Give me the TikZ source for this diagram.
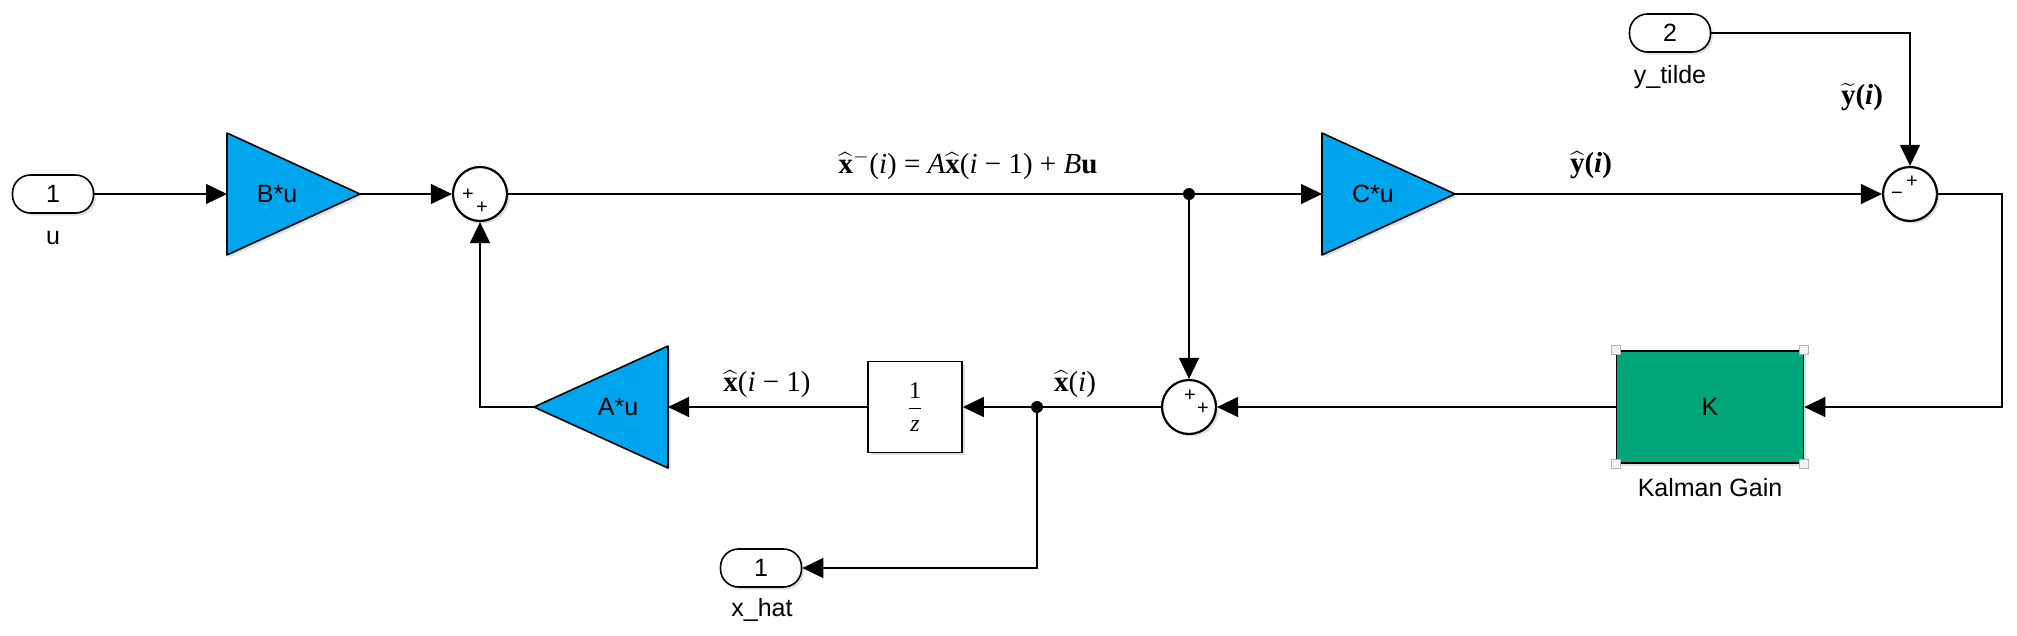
\RequirePackage{fix-cm}
\documentclass[tikz,border=0pt]{standalone}
\usepackage{amsmath}
\usepackage[no-math]{fontspec}
\setmainfont{Liberation Sans}
\newfontfamily\tms{Liberation Serif}
\usetikzlibrary{arrows.meta,shadows,calc}
\definecolor{gainblue}{RGB}{0,166,237}
\definecolor{kgreen}{RGB}{0,166,122}
\newcommand\hatx{\ensuremath{\widehat{\hbox{\tms\bfseries x}}}}
\begin{document}
\begin{tikzpicture}[x=1pt,y=-1pt,
  wire/.style={line width=1.3pt},
  arr/.style={wire,-{Triangle[length=21pt,width=20pt]}},
  shad/.style={drop shadow={shadow xshift=2.5pt,shadow yshift=-2.5pt,opacity=0.25}},
  port/.style={draw,line width=1.6pt,rounded corners=18pt,minimum width=81pt,minimum height=38pt,inner sep=0pt,fill=white,shad,font=\fontsize{25}{30}\selectfont},
  sumnode/.style={draw,circle,line width=2.2pt,minimum size=54pt,inner sep=0pt,fill=white,shad},
  gain/.style={draw,line width=1.6pt,fill=gainblue,line join=round,shad},
  lbl/.style={font=\fontsize{25}{30}\selectfont,inner sep=0pt},
  mlbl/.style={font=\fontsize{29}{34}\selectfont\tms,inner sep=0pt},
  sgn/.style={font=\fontsize{20}{24}\selectfont,inner sep=0pt},
  dot/.style={circle,fill,inner sep=0pt,minimum size=12pt},
  handle/.style={draw=gray!60,fill=gray!10,line width=0.8pt,minimum size=9pt,inner sep=0pt},
]
\useasboundingbox (0,0) rectangle (2017,635);

% ports
\node[port] (inU) at (53,194) {1};
\node[lbl] (inUlbl) at (53,238) {u};
\node[port] (inY) at (1670,33) {2};
\node[lbl] (inYlbl) at (1670,77) {y\_tilde};
\node[port] (outX) at (761,568) {1};
\node[lbl] (outXlbl) at (762,610) {x\_hat};

% gains
\draw[gain] (227,133) -- (360,194) -- (227,255) -- cycle;
\coordinate (Bu-in) at (227,194);
\coordinate (Bu-out) at (360,194);
\node[lbl] (Bu) at (277,194) {B*u};

\draw[gain] (1322,133) -- (1455,194) -- (1322,255) -- cycle;
\coordinate (Cu-in) at (1322,194);
\coordinate (Cu-out) at (1455,194);
\node[lbl] (Cu) at (1373,194) {C*u};

\draw[gain] (668,346) -- (534,407) -- (668,468) -- cycle;
\coordinate (Au-in) at (668,407);
\coordinate (Au-out) at (534,407);
\node[lbl] (Au) at (618,407) {A*u};

% sums
\node[sumnode] (S1) at (480,194) {};
\node[sgn] (S1a) at (468,195) {+};
\node[sgn] (S1b) at (482,208) {+};

\node[sumnode] (S2) at (1910,194) {};
\node[sgn] (S2a) at (1912,182) {+};
\node[sgn] (S2b) at (1897,196) {\textminus};

\node[sumnode] (S3) at (1189,407) {};
\node[sgn] (S3a) at (1190,396) {+};
\node[sgn] (S3b) at (1203,409) {+};

% blocks
\node[draw,line width=1.6pt,fill=white,minimum width=94pt,minimum height=91pt,inner sep=0pt,shad,font=\fontsize{24}{28}\selectfont\tms] (Z) at (915,407) {$\displaystyle\frac{\hbox{1}}{\hbox{\itshape z}}$};
\node[draw,line width=1.6pt,fill=kgreen,minimum width=187pt,minimum height=112pt,inner sep=0pt,shad,font=\fontsize{25}{30}\selectfont] (K) at (1710,407) {K};
\node[handle] (Kh1) at (K.north west) {};
\node[handle] (Kh2) at (K.north east) {};
\node[handle] (Kh3) at (K.south west) {};
\node[handle] (Kh4) at (K.south east) {};
\node[lbl] (Klbl) at (1710,488) {Kalman Gain};

% junctions
\node[dot] (J1) at (1189,194) {};
\node[dot] (J2) at (1037,407) {};

% wires
\draw[arr] (inU.east) -- (Bu-in);
\draw[arr] (Bu-out) -- (S1.west);
\draw[wire] (S1.east) -- (J1.center);
\draw[arr] (J1.center) -- (Cu-in);
\draw[arr] (J1.center) -- (S3.north);
\draw[arr] (Cu-out) -- (S2.west);
\draw[arr] (inY.east) -| (S2.north);
\coordinate (R1) at (2002,194);
\coordinate (R2) at (2002,407);
\draw[arr] (S2.east) -- (R1) -- (R2) -- (K.east);
\draw[arr] (K.west) -- (S3.east);
\draw[wire] (S3.west) -- (J2.center);
\draw[arr] (J2.center) -- (Z.east);
\draw[arr] (Z.west) -- (Au-in);
\coordinate (L1) at (480,407);
\draw[arr] (Au-out) -- (L1) -- (S1.south);
\draw[arr] (J2.center) |- (outX.east);

% signal labels
\node[mlbl] (eq) at (968,165) {\hatx$^{-}$(\textit{i}) = \textit{A}\hatx(\textit{i} − 1) + \textit{B}\textbf{u}};
\node[mlbl] (yhat) at (1591,165) {$\widehat{\hbox{\tms\bfseries y}}$\textbf{(\textit{i})}};
\node[mlbl] (ytil) at (1862,97) {$\widetilde{\hbox{\tms\bfseries y}}$\textbf{(\textit{i})}};
\node[mlbl] (xim1) at (767,384) {\hatx(\textit{i} − 1)};
\node[mlbl] (xi) at (1075,384) {\hatx(\textit{i})};
\end{tikzpicture}
\end{document}
